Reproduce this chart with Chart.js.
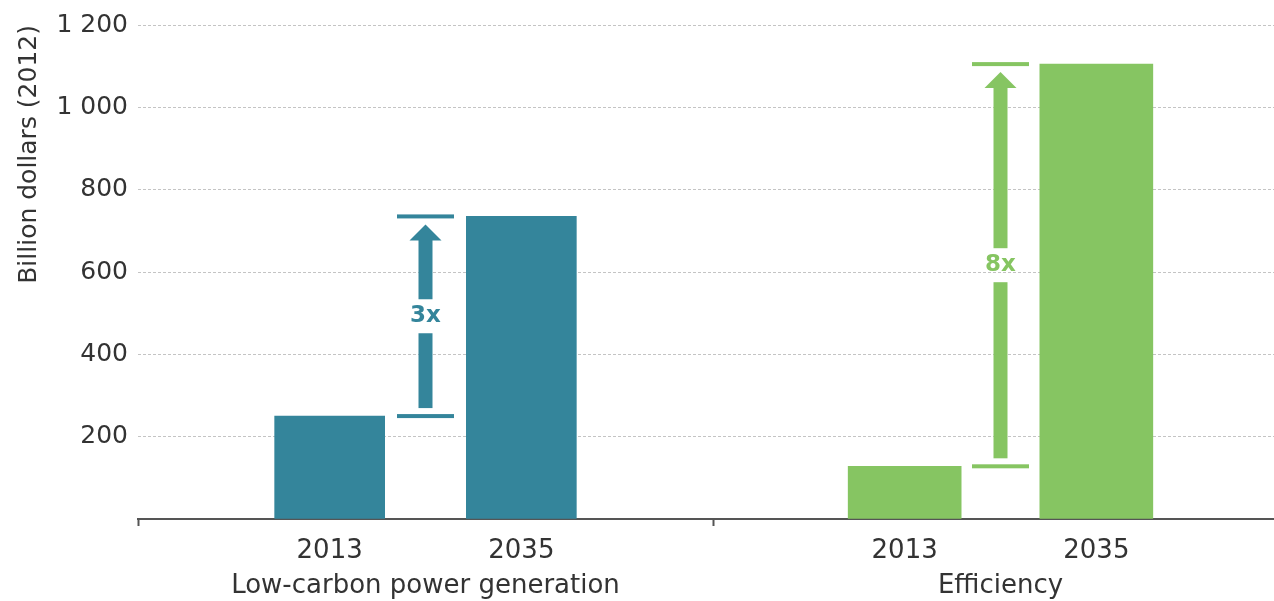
<!DOCTYPE html>
<html>
<head>
<meta charset="utf-8">
<script src="https://cdn.jsdelivr.net/npm/chart.js@4.4.1/dist/chart.umd.min.js"></script>
<style>
html,body{margin:0;padding:0;background:#fff;overflow:hidden;}
#wrap{width:1288px;height:601px;position:relative;}
</style>
</head>
<body>
<div id="wrap"><canvas id="c" width="1288" height="601"></canvas></div>
<script>
// ---- data ----
const groups = ['Low-carbon power generation', 'Efficiency'];
const years = ['2013', '2035'];
const lowCarbon = [250, 735];
const efficiency = [128, 1105];
const multipliers = ['3x', '8x'];
const yTicks = [0, 200, 400, 600, 800, 1000, 1200];
const yTickLabels = ['', '200', '400', '600', '800', '1 000', '1 200'];
const colors = ['#34859b', '#86c562'];

// x positions (slots) derived from structure: each group occupies 3 units
const slotOf = (g, i) => g * 3 + 1 + i;
const groupMid = g => g * 3 + 1.5;

const FONT = '"DejaVu Sans", sans-serif';

// label map for x ticks
const xLabelMap = {};
groups.forEach((g, gi) => {
  years.forEach((y, i) => { xLabelMap[slotOf(gi, i)] = y; });
  xLabelMap[groupMid(gi)] = ['', g];
  xLabelMap[gi * 3] = '';
});

const arrowPlugin = {
  id: 'arrows',
  afterDatasetsDraw(chart) {
    const ctx = chart.ctx;
    const xs = chart.scales.x, ys = chart.scales.y;
    [lowCarbon, efficiency].forEach((vals, gi) => {
      const col = colors[gi];
      const cx = xs.getPixelForValue(groupMid(gi));
      const yLow = ys.getPixelForValue(vals[0]);
      const yHigh = ys.getPixelForValue(vals[1]);
      ctx.save();
      ctx.fillStyle = col;
      // caps
      const capW = 57, capH = 4;
      ctx.fillRect(cx - capW / 2, yHigh - capH / 2, capW, capH);
      ctx.fillRect(cx - capW / 2, yLow - capH / 2, capW, capH);
      // label
      const yMid = (yLow + yHigh) / 2;
      ctx.font = 'bold 23px ' + FONT;
      ctx.textAlign = 'center';
      ctx.textBaseline = 'middle';
      ctx.fillText(multipliers[gi], cx, yMid);
      // shaft
      const sw = 14, gap = 17;
      const tipY = yHigh + 8, headH = 16, headW = 32;
      const bottomY = yLow - 8;
      ctx.fillRect(cx - sw / 2, tipY + headH - 1, sw, (yMid - gap) - (tipY + headH - 1));
      ctx.fillRect(cx - sw / 2, yMid + gap, sw, bottomY - (yMid + gap));
      // head
      ctx.beginPath();
      ctx.moveTo(cx, tipY);
      ctx.lineTo(cx + headW / 2, tipY + headH);
      ctx.lineTo(cx - headW / 2, tipY + headH);
      ctx.closePath();
      ctx.fill();
      ctx.restore();
    });
  }
};

const datasets = [lowCarbon, efficiency].map((vals, gi) => ({
  label: groups[gi],
  data: vals.map((v, i) => ({ x: slotOf(gi, i), y: v })),
  backgroundColor: colors[gi],
  borderWidth: 0,
  barThickness: gi === 0 ? 110 : 113,
  grouped: false
}));

new Chart(document.getElementById('c'), {
  type: 'bar',
  data: { datasets },
  plugins: [arrowPlugin],
  options: {
    responsive: false,
    animation: false,
    layout: { padding: { top: 24, right: 0, left: 0, bottom: 0 } },
    plugins: { legend: { display: false }, tooltip: { enabled: false } },
    scales: {
      x: {
        type: 'linear',
        offset: false,
        min: 0, max: 6,
        afterBuildTicks: s => { s.ticks = Object.keys(xLabelMap).map(Number).sort((a, b) => a - b).map(v => ({ value: v })); },
        afterFit: s => { s.height = 82; },
        ticks: {
          autoSkip: false, maxRotation: 0, minRotation: 0,
          padding: 8,
          color: '#333',
          font: { family: FONT, size: 26, lineHeight: 1.35 },
          callback: v => xLabelMap[v]
        },
        grid: {
          offset: false,
          drawOnChartArea: false,
          drawTicks: true,
          tickLength: 7,
          tickWidth: 2,
          tickColor: c => (c.tick && Number.isInteger(c.tick.value / 3)) ? '#555' : 'rgba(0,0,0,0)',
          color: 'rgba(0,0,0,0)'
        },
        border: { display: true, color: '#555', width: 2 }
      },
      y: {
        min: 0, max: 1200,
        afterBuildTicks: s => { s.ticks = yTicks.map(v => ({ value: v })); },
        afterFit: s => { s.width = 138; },
        ticks: {
          padding: 10,
          color: '#333',
          font: { family: FONT, size: 25 },
          callback: (v) => yTickLabels[yTicks.indexOf(v)]
        },
        grid: {
          drawTicks: false,
          color: c => c.tick && c.tick.value === 0 ? 'rgba(0,0,0,0)' : '#c4c4c4',
          lineWidth: 1
        },
        border: { display: false, dash: [3, 2] },
        title: {
          display: true,
          text: 'Billion dollars (2012)',
          align: 'end',
          color: '#333',
          font: { family: FONT, size: 25 },
          padding: { top: 14, bottom: 4 }
        }
      }
    }
  }
});
</script>
</body>
</html>
